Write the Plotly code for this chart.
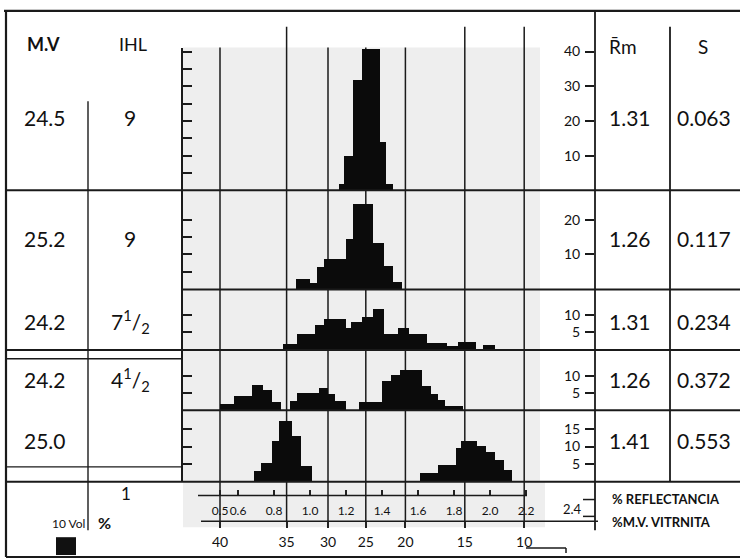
import numpy as np
import plotly.graph_objects as go

W, H = 740, 559

# ---------------- data ----------------
ROW_MV = ["24.5", "25.2", "24.2", "24.2", "25.0"]
ROW_IHL = ["9", "9", "7<sup>1</sup>/<sub>2</sub>", "4<sup>1</sup>/<sub>2</sub>", ""]
ROW_RM = ["1.31", "1.26", "1.31", "1.26", "1.41"]
ROW_S = ["0.063", "0.117", "0.234", "0.372", "0.553"]

# histogram bin edges (% reflectance) and bar heights (vol %); 0 = empty bin
EDGES_1 = [1.16, 1.19, 1.24, 1.29, 1.39, 1.42, 1.46]
VOL_1 = [2, 10, 32, 41, 14, 2]
EDGES_2 = [0.92, 1.00, 1.04, 1.08, 1.20, 1.24, 1.35, 1.41, 1.46, 1.51]
VOL_2 = [2.9, 1.7, 6.2, 8.6, 14.3, 24.5, 13.1, 6.5, 1.9]
EDGES_3 = [0.85, 0.93, 1.03, 1.08, 1.20, 1.23, 1.29, 1.35, 1.41, 1.49, 1.55,
           1.65, 1.76, 1.82, 1.92, 1.96, 2.03]
VOL_3 = [1.5, 4.6, 7.0, 8.7, 6.2, 7.9, 9.3, 11.7, 4.6, 6.3, 4.4, 1.9, 1.0, 2.2, 0, 1.4]
EDGES_4 = [0.50, 0.58, 0.68, 0.74, 0.79, 0.84, 0.89, 0.93, 1.05, 1.10, 1.14,
           1.20, 1.27, 1.40, 1.45, 1.50, 1.62, 1.67, 1.71, 1.75, 1.85]
VOL_4 = [1.9, 4.2, 7.5, 5.9, 2.4, 0, 2.9, 5.1, 6.7, 4.8, 2.8, 0, 2.4, 8.6, 10.2,
         11.8, 7.1, 4.9, 3.1, 1.4]
EDGES_5 = [0.69, 0.73, 0.79, 0.83, 0.90, 0.95, 1.01, 1.61, 1.71, 1.81, 1.84,
           1.93, 1.98, 2.03, 2.08, 2.12]
VOL_5 = [2.7, 5.2, 11.6, 17.3, 12.8, 4.2, 0, 2.2, 4.6, 9.4, 11.6, 10.1, 8.4, 5.9, 3.0]

EDGES = [EDGES_1, EDGES_2, EDGES_3, EDGES_4, EDGES_5]
VOLS = [VOL_1, VOL_2, VOL_3, VOL_4, VOL_5]

# axis ticks
REFL_TICKS = [0.5, 0.6, 0.8, 1.0, 1.2, 1.4, 1.6, 1.8, 2.0, 2.2]
REFL_EXTRA_LABEL = "2.4"
MV_TICKS = [40, 35, 30, 25, 20, 15, 10]
MV_AT_REFL = [0.50, 0.87, 1.10, 1.31, 1.53, 1.86, 2.19]   # nomogram: % M.V. vitrinita vs % reflectance
RIGHT_TICKS = [[10, 20, 30, 40], [10, 20], [5, 10], [5, 10], [5, 10, 15]]
LEFT_TICKS = [[5, 10, 15, 20, 25, 30, 35, 40], [5, 10, 15, 20], [5, 10], [5, 10], [5, 10, 15]]

# ---------------- layout helpers ----------------
def px(p):
    return p / W

def py(p):
    return 1 - p / H

FONT = "Lato"
INK = "#111111"
GRAY = "#eeeeee"
REFL_RANGE = [1 + (183 - 310) / 180, 1 + (540 - 310) / 180]
X_DOM = [px(183), px(540)]
ROWS_PX = [(43, 187), (187, 286.7), (286.7, 347.7), (347.7, 409), (409, 480.5)]
PX_PER_PCT = 3.5

fig = go.Figure()
layout = dict(
    width=W, height=H, margin=dict(l=0, r=0, t=0, b=0),
    paper_bgcolor="white", plot_bgcolor="rgba(0,0,0,0)",
    showlegend=False, bargap=0,
    font=dict(family=FONT, color=INK),
)

for i in range(5):
    n = i + 1
    e = np.array(EDGES[i], dtype=float)
    v = np.array(VOLS[i], dtype=float)
    sx = "" if n == 1 else str(n)
    fig.add_trace(go.Bar(
        x=(e[:-1] + e[1:]) / 2, y=v, width=np.diff(e),
        marker=dict(color="#0b0b0b", line=dict(width=0)),
        xaxis="x" + sx, yaxis="y" + sx, hoverinfo="skip",
    ))
    # overlay axis carrying the right-hand vol % labels
    fig.add_trace(go.Scatter(x=[None], y=[None], xaxis="x" + sx, yaxis=f"y{n + 5}",
                             hoverinfo="skip", mode="markers"))
    top, bot = ROWS_PX[i]
    yr = [0, (bot - top) / PX_PER_PCT]
    xa = dict(domain=X_DOM, range=REFL_RANGE, anchor="y" + sx, showgrid=False,
              zeroline=False, showline=False, fixedrange=True)
    if n < 5:
        xa.update(showticklabels=False, ticks="")
    else:
        xa.update(anchor="free", position=py(495), ticks="inside", ticklen=6,
                  tickwidth=1.5, tickcolor="#222", tickvals=REFL_TICKS,
                  ticktext=[f"{t:.1f}" for t in REFL_TICKS], tickangle=0,
                  tickfont=dict(size=12, color=INK), ticklabelstandoff=6)
    layout["xaxis" + sx] = xa
    layout["yaxis" + sx] = dict(
        domain=[py(bot), py(top)], range=yr, anchor="x" + sx,
        showgrid=False, zeroline=False, showline=True, linecolor="#1a1a1a", linewidth=2,
        ticks="inside", ticklen=9, tickwidth=2, tickcolor="#1a1a1a",
        tickvals=LEFT_TICKS[i], showticklabels=False, fixedrange=True,
    )
    layout[f"yaxis{n + 5}"] = dict(
        overlaying="y" + sx, side="left", anchor="free", position=px(594),
        range=yr, showgrid=False, zeroline=False, showline=False,
        ticks="outside", ticklen=9, tickwidth=1.5, tickcolor="#1a1a1a",
        tickvals=RIGHT_TICKS[i], ticklabelstandoff=2,
        tickfont=dict(size=14, color=INK), fixedrange=True,
    )

# M.V. vitrinita axis
fig.add_trace(go.Scatter(x=[None], y=[None], xaxis="x6", yaxis="y5",
                         hoverinfo="skip", mode="markers"))
layout["xaxis6"] = dict(
    overlaying="x5", anchor="free", position=py(521), side="bottom",
    range=REFL_RANGE, showgrid=False, zeroline=False, showline=False,
    ticks="outside", ticklen=6, tickwidth=1.5, tickcolor="#222",
    tickvals=MV_AT_REFL, ticktext=[str(t) for t in MV_TICKS], tickangle=0,
    tickfont=dict(size=14, color=INK), ticklabelstandoff=2, fixedrange=True,
)

# ---------------- shapes ----------------
shapes = []

def rect(x0, y0, x1, y1, fill, layer="below"):
    shapes.append(dict(type="rect", xref="paper", yref="paper", x0=px(x0), x1=px(x1),
                       y0=py(y1), y1=py(y0), fillcolor=fill, line=dict(width=0), layer=layer))

def line(x0, y0, x1, y1, w=1.8, c="#1a1a1a"):
    shapes.append(dict(type="line", xref="paper", yref="paper", x0=px(x0), x1=px(x1),
                       y0=py(y0), y1=py(y1), line=dict(color=c, width=w), layer="above"))

rect(183, 43, 540, 481, GRAY)
rect(183, 481, 545, 527, GRAY)

for mv, r in zip(MV_TICKS, MV_AT_REFL):
    shapes.append(dict(type="line", xref="x5", yref="paper", x0=r, x1=r,
                       y0=py(521), y1=py(22 if mv in (35, 15, 10) else 43),
                       line=dict(color="#1a1a1a", width=1.5), layer="below"))

# frame and table rules
line(4, 6, 740, 6, 2.2)
line(6, 6, 6, 557, 2.2)
line(6, 557, 740, 557, 2.2)
line(595, 6, 595, 530, 1.8)
line(670, 22, 670, 481, 1.8)
line(88, 97, 88, 530, 1.4)
line(6, 187, 740, 187, 2)
line(183, 287, 740, 287, 2)
line(6, 348, 740, 348, 2)
line(6, 357, 183, 357, 1.6)
line(183, 409, 740, 409, 2)
line(6, 466, 183, 466, 1.4)
line(6, 481, 740, 481, 2)
# bottom scales
line(198, 495, 527, 495, 1.5)
line(201, 521, 598, 521, 1.5)
line(526, 548, 566, 548, 1.5)
line(566, 548, 566, 553, 1.5)
line(583, 499, 595, 499, 1.5)
line(583, 516, 595, 516, 1.5)
# legend swatch
rect(56, 537, 76, 555, "#111111", layer="above")

layout["shapes"] = shapes

# ---------------- annotations ----------------
ann = []

def text(x, y, s, size=20, bold=False, xanchor="center"):
    ann.append(dict(xref="paper", yref="paper", x=px(x), y=py(y), text=f"<b>{s}</b>" if bold else s,
                    showarrow=False, xanchor=xanchor, yanchor="middle",
                    font=dict(family=FONT, size=size, color=INK)))

text(43, 39, "M.V", 18, bold=True)
text(133, 39, "IHL", 18)
text(623, 42, "R\u0304m", 19)
text(703, 42, "S", 19)

ROW_Y = [114, 236, 319, 378, 439]
for yv, mv, ihl, rm, s in zip(ROW_Y, ROW_MV, ROW_IHL, ROW_RM, ROW_S):
    text(45, yv, mv, 21)
    if ihl:
        text(130, yv, ihl, 21)
    text(630, yv, rm, 21)
    text(704, yv, s, 21)

text(126, 493, "1", 17)
text(68, 523, "10 Vol", 12)
text(104, 522, "%", 16, bold=True)
text(572, 509, REFL_EXTRA_LABEL, 13)
text(610, 498, "% REFLECTANCIA", 13, bold=True, xanchor="left")
text(610, 522, "%M.V. VITRNITA", 13, bold=True, xanchor="left")

layout["annotations"] = ann
fig.update_layout(**layout)
fig.write_html("out.html")
